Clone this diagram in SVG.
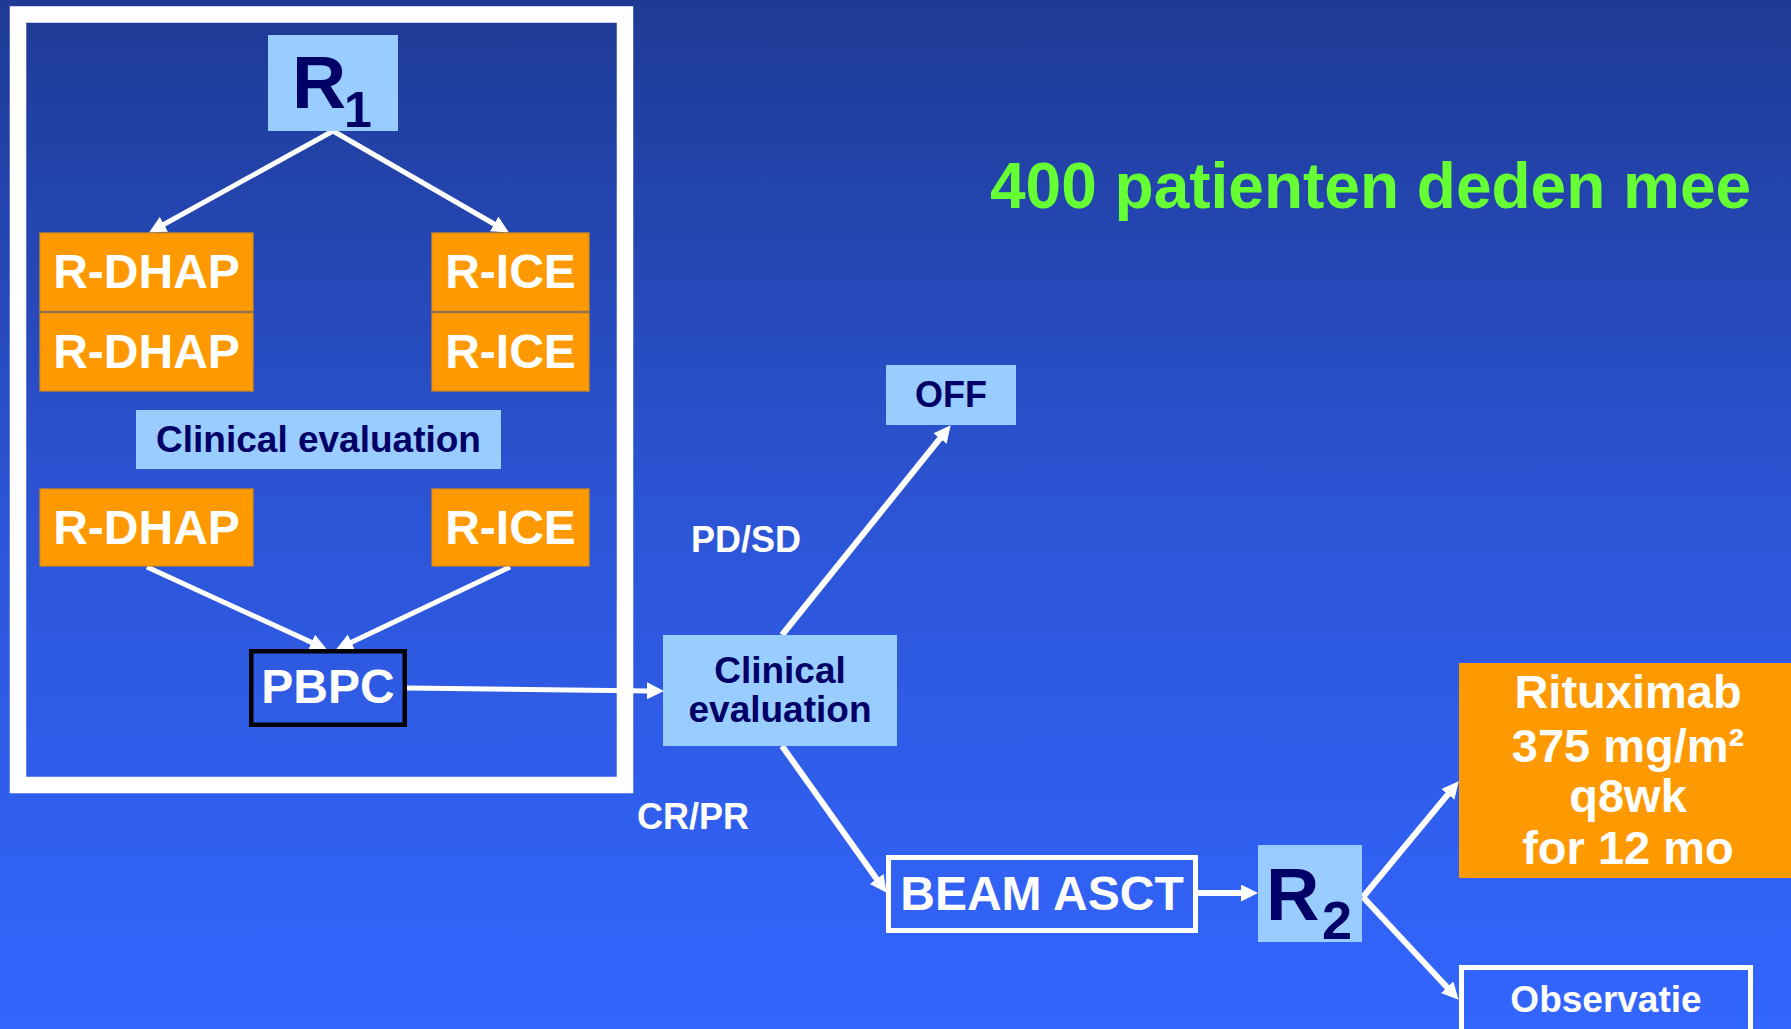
<svg xmlns="http://www.w3.org/2000/svg" width="1791" height="1029" viewBox="0 0 1791 1029">
  <defs>
    <linearGradient id="bg" x1="0" y1="0" x2="0" y2="1">
      <stop offset="0" stop-color="#1E3A94"/>
      <stop offset="0.5" stop-color="#2C55D6"/>
      <stop offset="1" stop-color="#3366FF"/>
    </linearGradient>
    <marker id="head" markerUnits="userSpaceOnUse" markerWidth="17" markerHeight="17" refX="4" refY="8.5" orient="auto" viewBox="0 0 17 17">
      <path d="M0,0 L17,8.5 L0,17 z" fill="#FFFFFF"/>
    </marker>
    <style>
      text { font-family: "Liberation Sans", Arial, Helvetica, sans-serif; font-weight: bold; }
      .c { text-anchor: middle; }
      .w { fill: #FFFFFF; }
      .n { fill: #000066; }
      .lb { fill: #99CCFF; }
      .or { fill: #FF9900; stroke: #E08A10; stroke-width: 1.2; }
      .arm { stroke: #FFFFFF; stroke-width: 6; fill: none; marker-end: url(#head); }
      .arm5 { stroke-width: 5; }
    </style>
  </defs>

  <!-- backdrop -->
  <rect x="0" y="0" width="1791" height="1029" fill="url(#bg)"/>

  <!-- induction frame -->
  <rect id="frame" x="18" y="14.5" width="607" height="770.5" fill="none" stroke="#FFFFFF" stroke-width="16.5"/>

  <text id="title" x="990" y="208" font-size="64" fill="#66FF33">400 patienten deden mee</text>

  <g id="connectors">
    <line class="arm arm5" x1="333" y1="131" x2="160.5" y2="226.2"/>
    <line class="arm arm5" x1="333" y1="131" x2="497.6" y2="226"/>
    <line class="arm arm5" x1="147" y1="567" x2="315.1" y2="644"/>
    <line class="arm arm5" x1="510" y1="567" x2="347.8" y2="643.9"/>
    <line class="arm arm5" x1="407" y1="688" x2="651" y2="690.9"/>
    <line class="arm" x1="782" y1="635" x2="942.5" y2="435.4"/>
    <line class="arm" x1="782" y1="746" x2="879" y2="882.2"/>
    <line class="arm" x1="1198" y1="893" x2="1245" y2="893"/>
    <line class="arm" x1="1363" y1="897" x2="1450.4" y2="791.3"/>
    <line class="arm" x1="1363" y1="897" x2="1449.8" y2="990.2"/>
  </g>

  <g id="r1">
    <rect class="lb" x="268" y="35" width="130" height="96"/>
    <text class="n" x="292" y="108" font-size="75">R</text>
    <text class="n" x="344" y="127" font-size="50">1</text>
  </g>

  <g id="dhap1">
    <rect class="or" x="40" y="233" width="213" height="78"/>
    <text class="w c" x="146.5" y="288" font-size="48">R-DHAP</text>
  </g>
  <g id="dhap2">
    <rect class="or" x="40" y="313" width="213" height="78"/>
    <text class="w c" x="146.5" y="368" font-size="48">R-DHAP</text>
  </g>
  <g id="ice1">
    <rect class="or" x="432" y="233" width="157" height="78"/>
    <text class="w c" x="510.5" y="288" font-size="48">R-ICE</text>
  </g>
  <g id="ice2">
    <rect class="or" x="432" y="313" width="157" height="78"/>
    <text class="w c" x="510.5" y="368" font-size="48">R-ICE</text>
  </g>

  <g id="eval1">
    <rect class="lb" x="136" y="410" width="365" height="59"/>
    <text class="n c" x="318.5" y="452" font-size="37">Clinical evaluation</text>
  </g>

  <g id="dhap3">
    <rect class="or" x="40" y="489" width="213" height="77"/>
    <text class="w c" x="146.5" y="544" font-size="48">R-DHAP</text>
  </g>
  <g id="ice3">
    <rect class="or" x="432" y="489" width="157" height="77"/>
    <text class="w c" x="510.5" y="544" font-size="48">R-ICE</text>
  </g>

  <g id="pbpc">
    <rect x="251.25" y="651.25" width="153.5" height="73.5" fill="none" stroke="#000000" stroke-width="4.5"/>
    <text class="w c" x="328" y="703" font-size="48">PBPC</text>
  </g>

  <g id="eval2">
    <rect class="lb" x="663" y="635" width="234" height="111"/>
    <text class="n c" x="780" y="683" font-size="37">Clinical</text>
    <text class="n c" x="780" y="722" font-size="37">evaluation</text>
  </g>

  <g id="off">
    <rect class="lb" x="886" y="365" width="130" height="60"/>
    <text class="n c" x="951" y="407" font-size="36">OFF</text>
  </g>

  <text id="pdsd" class="w c" x="746" y="552" font-size="36">PD/SD</text>
  <text id="crpr" class="w c" x="693" y="829" font-size="36">CR/PR</text>

  <g id="beam">
    <rect x="888.5" y="857.5" width="307" height="73" fill="none" stroke="#FFFFFF" stroke-width="5"/>
    <text class="w c" x="1042" y="910" font-size="48">BEAM ASCT</text>
  </g>

  <g id="r2">
    <rect class="lb" x="1258" y="845" width="104" height="97"/>
    <text class="n" x="1266" y="920" font-size="74">R</text>
    <text class="n" x="1322" y="939" font-size="54">2</text>
  </g>

  <g id="rituximab">
    <rect fill="#FF9900" x="1459" y="663" width="332" height="215"/>
    <text class="w c" x="1628" y="708" font-size="47">Rituximab</text>
    <text class="w c" x="1628" y="762" font-size="47">375 mg/m²</text>
    <text class="w c" x="1628" y="812" font-size="47">q8wk</text>
    <text class="w c" x="1628" y="864" font-size="47">for 12 mo</text>
  </g>

  <g id="observatie">
    <rect x="1461.5" y="967.5" width="289" height="80" fill="none" stroke="#FFFFFF" stroke-width="5"/>
    <text class="w c" x="1606" y="1012" font-size="37">Observatie</text>
  </g>
</svg>
